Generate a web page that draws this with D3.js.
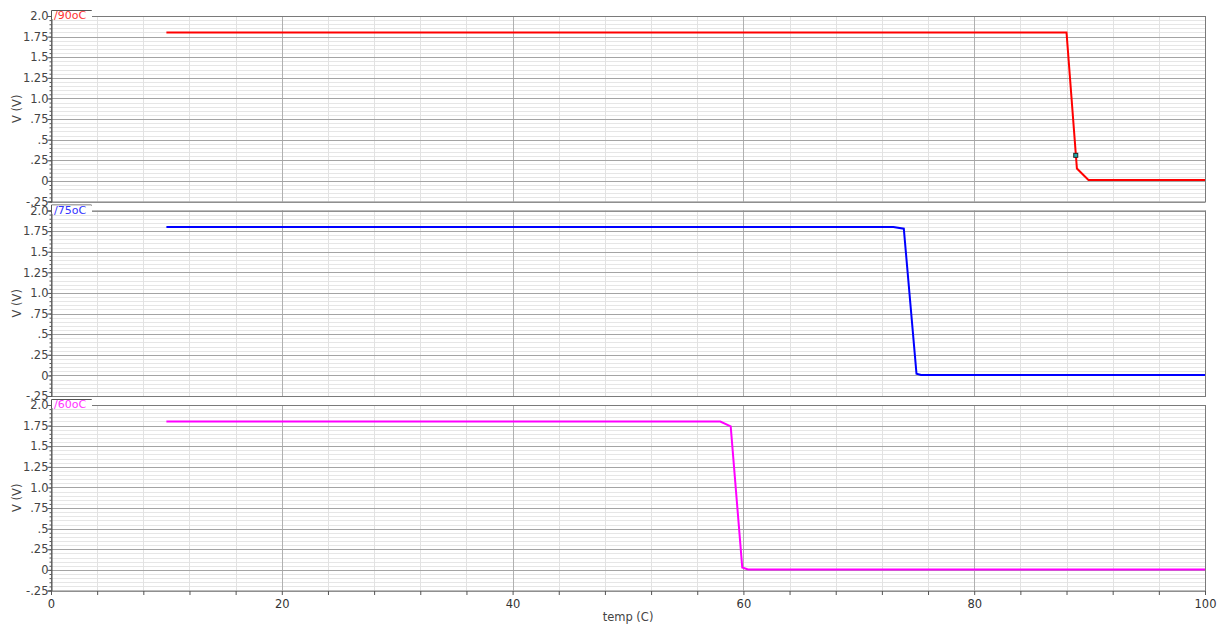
<!DOCTYPE html>
<html>
<head>
<meta charset="utf-8">
<script src="https://cdn.jsdelivr.net/npm/d3@7/dist/d3.min.js"></script>
<style>
  html, body { margin: 0; padding: 0; background: #fff; }
  svg { display: block; font-family: "DejaVu Sans", sans-serif; }
</style>
</head>
<body>
<div id="chart"></div>
<script>
'use strict';

// traces, one per panel
const traceNames = ["/90oC", "/75oC", "/60oC"];

const temp90 = [10, 88, 88.9, 89.9, 100];
const volt90 = [1.8, 1.8, 0.15, 0.01, 0.01];

const temp75 = [10, 73, 73.9, 75.0, 75.4, 100];
const volt75 = [1.8, 1.8, 1.78, 0.02, 0.005, 0.005];

const temp60 = [10, 58, 58.9, 59.9, 60.4, 100];
const volt60 = [1.8, 1.8, 1.74, 0.03, 0.005, 0.005];

const markerTemp = [88.8];
const markerVolt = [0.31];

const yTicks = [-0.25, 0, 0.25, 0.5, 0.75, 1.0, 1.25, 1.5, 1.75, 2.0];
const yTickLabels = ["-.25", "0", ".25", ".5", ".75", "1.0", "1.25", "1.5", "1.75", "2.0"];
const xTicks = [0, 20, 40, 60, 80, 100];

const colors = ["#ff0000", "#0000ff", "#ff00ff"];
const labelColors = ["#ff3333", "#3333ff", "#ff33ff"];

let width = 1218,
    height = 626,
    left = 51,
    right = 1205,
    panelTops = [16, 210.5, 405],
    panelH = 185.5;

let traces = [
  d3.zip(temp90, volt90),
  d3.zip(temp75, volt75),
  d3.zip(temp60, volt60)
];

let svg = d3.select("#chart")
  .append("svg")
    .attr("width", width)
    .attr("height", height);

let x = d3.scaleLinear()
  .domain([0, 100])
  .range([left, right]);

let minorX = d3.range(0, 100.1, 4);
let minorY = d3.range(-0.25, 2.001, 0.05);

traces.forEach((data, i) => {
  let top = panelTops[i];
  let y = d3.scaleLinear()
    .domain([-0.25, 2.0])
    .range([top + panelH, top]);

  let g = svg.append("g");

  // horizontal grid
  g.selectAll(".hmin")
    .data(minorY)
    .enter().append("line")
      .attr("x1", left).attr("x2", right)
      .attr("y1", d => Math.round(y(d)) + 0.5)
      .attr("y2", d => Math.round(y(d)) + 0.5)
      .attr("stroke", "#e6e6e6");

  // vertical grid
  g.selectAll(".vmin")
    .data(minorX)
    .enter().append("line")
      .attr("y1", top).attr("y2", top + panelH)
      .attr("x1", d => Math.round(x(d)) + 0.5)
      .attr("x2", d => Math.round(x(d)) + 0.5)
      .attr("stroke", d => d % 20 === 0 ? "#b0b0b0" : "#e2e2e2");

  g.selectAll(".hmaj")
    .data(yTicks)
    .enter().append("line")
      .attr("x1", left).attr("x2", right)
      .attr("y1", d => Math.round(y(d)) + 0.5)
      .attr("y2", d => Math.round(y(d)) + 0.5)
      .attr("stroke", "#a4a4a4");

  // frame
  g.append("rect")
    .attr("x", left + 0.5)
    .attr("y", top + 0.5)
    .attr("width", right - left)
    .attr("height", panelH)
    .attr("fill", "none")
    .attr("stroke", "#7a7a7a");

  // y axis
  let yAxis = d3.axisLeft(y)
    .tickValues(yTicks)
    .tickSize(4)
    .tickFormat((d, k) => yTickLabels[k]);

  let ya = g.append("g")
    .attr("transform", "translate(" + (left + 0.5) + ",0)")
    .call(yAxis);
  ya.select(".domain").attr("stroke", "#555");
  ya.selectAll(".tick line").attr("stroke", "#555");
  ya.selectAll(".tick text")
    .attr("x", -3)
    .attr("fill", "#444")
    .style("font-size", "11.5px")
    .style("font-family", "DejaVu Sans, sans-serif");

  g.append("g")
    .attr("transform", "translate(" + (left + 0.5) + ",0)")
    .call(d3.axisLeft(y).tickValues(minorY).tickSize(2).tickFormat(""))
    .call(s => s.select(".domain").remove())
    .selectAll("line").attr("stroke", "#555");

  g.append("text")
    .attr("transform", "translate(21," + (top + panelH / 2) + ") rotate(-90)")
    .attr("text-anchor", "middle")
    .attr("fill", "#444")
    .style("font-size", "11.5px")
    .text("V (V)");

  // trace
  let line = d3.line()
    .x(d => x(d[0]))
    .y(d => y(d[1]));

  g.append("path")
    .datum(data)
    .attr("d", line)
    .attr("fill", "none")
    .attr("stroke", colors[i])
    .attr("stroke-width", 2);

  if (i === 0) {
    g.selectAll(".mark")
      .data(d3.zip(markerTemp, markerVolt))
      .enter().append("rect")
        .attr("x", d => x(d[0]) - 2)
        .attr("y", d => y(d[1]) - 2)
        .attr("width", 4)
        .attr("height", 4)
        .attr("fill", "#2aa")
        .attr("stroke", "#222")
        .attr("stroke-width", 1);
  }

  // name tab
  g.append("path")
    .attr("d", "M" + (left + 0.5) + "," + (top + 3) + "V" + (top - 5.5) + "H" + 91.5 + "V" + (top + 0.5))
    .attr("fill", "#fff")
    .attr("stroke", "#555");
  g.append("rect")
    .attr("x", left + 1)
    .attr("y", top - 5)
    .attr("width", 40)
    .attr("height", 8)
    .attr("fill", "#fff");
  g.append("text")
    .attr("x", left + 3)
    .attr("y", top + 3)
    .attr("fill", labelColors[i])
    .style("font-size", "11px")
    .text(traceNames[i]);
});

// bottom x axis
let bottom = panelTops[2] + panelH;
let xa = svg.append("g")
  .attr("transform", "translate(0," + (bottom + 0.5) + ")")
  .call(d3.axisBottom(x).tickValues(minorX).tickSize(4).tickFormat(d => xTicks.includes(d) ? d : ""));
xa.select(".domain").remove();
xa.selectAll(".tick line").attr("stroke", "#555");
xa.selectAll(".tick text")
  .attr("y", 9)
  .attr("fill", "#333")
  .style("font-size", "11.5px")
  .style("font-family", "DejaVu Sans, sans-serif");

svg.append("text")
  .attr("x", (left + right) / 2)
  .attr("y", 621)
  .attr("text-anchor", "middle")
  .attr("fill", "#444")
  .style("font-size", "11.5px")
  .text("temp (C)");
</script>
</body>
</html>
